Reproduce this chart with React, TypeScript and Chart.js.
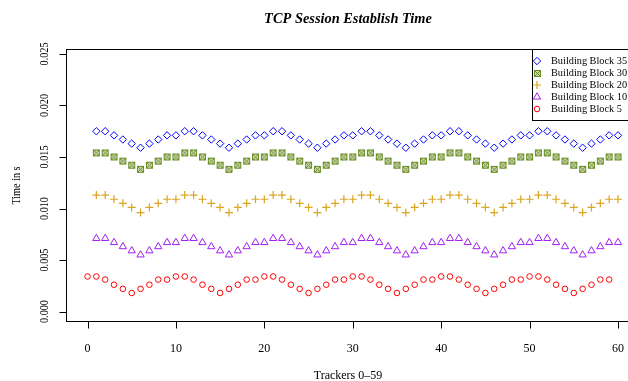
import React, { useEffect, useRef } from "react";
import { Chart, registerables } from "chart.js";

Chart.register(...registerables);

const titleText = "TCP Session Establish Time";
const xTitle = "Trackers 0\u201359";
const yTitle = "Time in s";
const xTicks = [0, 10, 20, 30, 40, 50, 60];
const xTickLabels = ["0", "10", "20", "30", "40", "50", "60"];
const yTicks = [0, 0.005, 0.01, 0.015, 0.02, 0.025];
const yTickLabels = ["0.000", "0.005", "0.010", "0.015", "0.020", "0.025"];

const trackersFrom0 = [
  0, 1, 2, 3, 4, 5, 6, 7, 8, 9, 10, 11, 12, 13, 14, 15, 16, 17, 18, 19,
  20, 21, 22, 23, 24, 25, 26, 27, 28, 29, 30, 31, 32, 33, 34, 35, 36, 37, 38, 39,
  40, 41, 42, 43, 44, 45, 46, 47, 48, 49, 50, 51, 52, 53, 54, 55, 56, 57, 58, 59,
];
const trackersFrom1 = [
  1, 2, 3, 4, 5, 6, 7, 8, 9, 10, 11, 12, 13, 14, 15, 16, 17, 18, 19, 20,
  21, 22, 23, 24, 25, 26, 27, 28, 29, 30, 31, 32, 33, 34, 35, 36, 37, 38, 39, 40,
  41, 42, 43, 44, 45, 46, 47, 48, 49, 50, 51, 52, 53, 54, 55, 56, 57, 58, 59, 60,
];

const bb35 = [
  0.0175, 0.0175, 0.0171, 0.0167, 0.0163, 0.0159, 0.0163, 0.0167, 0.0171, 0.0171,
  0.0175, 0.0175, 0.0171, 0.0167, 0.0163, 0.0159, 0.0163, 0.0167, 0.0171, 0.0171,
  0.0175, 0.0175, 0.0171, 0.0167, 0.0163, 0.0159, 0.0163, 0.0167, 0.0171, 0.0171,
  0.0175, 0.0175, 0.0171, 0.0167, 0.0163, 0.0159, 0.0163, 0.0167, 0.0171, 0.0171,
  0.0175, 0.0175, 0.0171, 0.0167, 0.0163, 0.0159, 0.0163, 0.0167, 0.0171, 0.0171,
  0.0175, 0.0175, 0.0171, 0.0167, 0.0163, 0.0159, 0.0163, 0.0167, 0.0171, 0.0171,
];
const bb30 = [
  0.0154, 0.0154, 0.015, 0.0146, 0.0142, 0.0138, 0.0142, 0.0146, 0.015, 0.015,
  0.0154, 0.0154, 0.015, 0.0146, 0.0142, 0.0138, 0.0142, 0.0146, 0.015, 0.015,
  0.0154, 0.0154, 0.015, 0.0146, 0.0142, 0.0138, 0.0142, 0.0146, 0.015, 0.015,
  0.0154, 0.0154, 0.015, 0.0146, 0.0142, 0.0138, 0.0142, 0.0146, 0.015, 0.015,
  0.0154, 0.0154, 0.015, 0.0146, 0.0142, 0.0138, 0.0142, 0.0146, 0.015, 0.015,
  0.0154, 0.0154, 0.015, 0.0146, 0.0142, 0.0138, 0.0142, 0.0146, 0.015, 0.015,
];
const bb20 = [
  0.0113, 0.0113, 0.0109, 0.0105, 0.0101, 0.0096, 0.0101, 0.0105, 0.0109, 0.0109,
  0.0113, 0.0113, 0.0109, 0.0105, 0.0101, 0.0096, 0.0101, 0.0105, 0.0109, 0.0109,
  0.0113, 0.0113, 0.0109, 0.0105, 0.0101, 0.0096, 0.0101, 0.0105, 0.0109, 0.0109,
  0.0113, 0.0113, 0.0109, 0.0105, 0.0101, 0.0096, 0.0101, 0.0105, 0.0109, 0.0109,
  0.0113, 0.0113, 0.0109, 0.0105, 0.0101, 0.0096, 0.0101, 0.0105, 0.0109, 0.0109,
  0.0113, 0.0113, 0.0109, 0.0105, 0.0101, 0.0096, 0.0101, 0.0105, 0.0109, 0.0109,
];
const bb10 = [
  0.0071, 0.0071, 0.0067, 0.0063, 0.0059, 0.0055, 0.0059, 0.0063, 0.0067, 0.0067,
  0.0071, 0.0071, 0.0067, 0.0063, 0.0059, 0.0055, 0.0059, 0.0063, 0.0067, 0.0067,
  0.0071, 0.0071, 0.0067, 0.0063, 0.0059, 0.0055, 0.0059, 0.0063, 0.0067, 0.0067,
  0.0071, 0.0071, 0.0067, 0.0063, 0.0059, 0.0055, 0.0059, 0.0063, 0.0067, 0.0067,
  0.0071, 0.0071, 0.0067, 0.0063, 0.0059, 0.0055, 0.0059, 0.0063, 0.0067, 0.0067,
  0.0071, 0.0071, 0.0067, 0.0063, 0.0059, 0.0055, 0.0059, 0.0063, 0.0067, 0.0067,
];
const bb5 = [
  0.0034, 0.0034, 0.0031, 0.0026, 0.0022, 0.0018, 0.0022, 0.0026, 0.0031, 0.0031,
  0.0034, 0.0034, 0.0031, 0.0026, 0.0022, 0.0018, 0.0022, 0.0026, 0.0031, 0.0031,
  0.0034, 0.0034, 0.0031, 0.0026, 0.0022, 0.0018, 0.0022, 0.0026, 0.0031, 0.0031,
  0.0034, 0.0034, 0.0031, 0.0026, 0.0022, 0.0018, 0.0022, 0.0026, 0.0031, 0.0031,
  0.0034, 0.0034, 0.0031, 0.0026, 0.0022, 0.0018, 0.0022, 0.0026, 0.0031, 0.0031,
  0.0034, 0.0034, 0.0031, 0.0026, 0.0022, 0.0018, 0.0022, 0.0026, 0.0031, 0.0031,
];

const seriesLabels = ["Building Block 35", "Building Block 30", "Building Block 20", "Building Block 10", "Building Block 5"];
const seriesColors = ["#0000FF", "#6B8E23", "#DAA520", "#A020F0", "#FF0000"];

const FONT = "'Liberation Serif', 'Times New Roman', serif";
const VSQUASH = 0.85;

function makeSquareX(color: string): HTMLCanvasElement {
  const c = document.createElement("canvas");
  c.width = 9;
  c.height = 9;
  const g = c.getContext("2d")!;
  g.fillStyle = "rgba(107,142,35,0.35)";
  g.fillRect(1.5, 1.5, 6, 6);
  g.strokeStyle = color;
  g.lineWidth = 1;
  g.strokeRect(1.5, 1.5, 6, 6);
  g.beginPath();
  g.moveTo(1.5, 1.5);
  g.lineTo(7.5, 7.5);
  g.moveTo(7.5, 1.5);
  g.lineTo(1.5, 7.5);
  g.stroke();
  return c;
}

function drawMarker(ctx: CanvasRenderingContext2D, kind: string, x: number, y: number, color: string, img?: HTMLCanvasElement) {
  ctx.save();
  ctx.strokeStyle = color;
  ctx.lineWidth = 1;
  ctx.beginPath();
  if (kind === "diamond") {
    const r = 3.7;
    ctx.moveTo(x, y - r);
    ctx.lineTo(x + r, y);
    ctx.lineTo(x, y + r);
    ctx.lineTo(x - r, y);
    ctx.closePath();
    ctx.stroke();
  } else if (kind === "squarex" && img) {
    ctx.drawImage(img, Math.round(x - 4.5), Math.round(y - 4.5));
  } else if (kind === "cross") {
    const r = 4;
    ctx.lineWidth = 1.2;
    ctx.moveTo(x - r, y);
    ctx.lineTo(x + r, y);
    ctx.moveTo(x, y - r);
    ctx.lineTo(x, y + r);
    ctx.stroke();
  } else if (kind === "triangle") {
    const r = 4.2;
    ctx.moveTo(x, y - r);
    ctx.lineTo(x + r * 0.866, y + r * 0.5);
    ctx.lineTo(x - r * 0.866, y + r * 0.5);
    ctx.closePath();
    ctx.stroke();
  } else {
    ctx.arc(x, y, 2.8, 0, Math.PI * 2);
    ctx.stroke();
  }
  ctx.restore();
}

export default function App() {
  const ref = useRef<HTMLCanvasElement>(null);
  useEffect(() => {
    if (!ref.current) return;
    const sqx = makeSquareX(seriesColors[1]);
    const kinds = ["diamond", "squarex", "cross", "triangle", "circle"];
    const mk = (ys: number[], xs: number[]) => ys.map((v, i) => ({ x: xs[i], y: v }));
    const datasets: any[] = [
      { label: seriesLabels[0], data: mk(bb35, trackersFrom1), pointStyle: "rectRot", pointRadius: 3.7, borderColor: seriesColors[0], w: 1 },
      { label: seriesLabels[1], data: mk(bb30, trackersFrom1), pointStyle: sqx, pointRadius: 4.5, borderColor: seriesColors[1], w: 1 },
      { label: seriesLabels[2], data: mk(bb20, trackersFrom1), pointStyle: "cross", pointRadius: 4, borderColor: seriesColors[2], w: 1.2 },
      { label: seriesLabels[3], data: mk(bb10, trackersFrom1), pointStyle: "triangle", pointRadius: 4.2, borderColor: seriesColors[3], w: 1 },
      { label: seriesLabels[4], data: mk(bb5, trackersFrom0), pointStyle: "circle", pointRadius: 2.8, borderColor: seriesColors[4], w: 1 },
    ].map(({ w, ...d }) => ({
      ...d,
      showLine: false,
      backgroundColor: "transparent",
      pointBackgroundColor: "transparent",
      pointBorderColor: d.borderColor,
      pointBorderWidth: w,
      pointHoverRadius: d.pointRadius,
      clip: false,
    }));

    const decor = {
      id: "decor",
      afterDraw(chart: any) {
        const ctx: CanvasRenderingContext2D = chart.ctx;
        const xs = chart.scales.x;
        const ys = chart.scales.y;
        const a = chart.chartArea;
        ctx.save();
        ctx.strokeStyle = "#000";
        ctx.fillStyle = "#000";
        ctx.lineWidth = 1;
        // box
        ctx.strokeRect(a.left + 0.5, a.top + 0.5, a.right - a.left, a.bottom - a.top - 1);
        const bottom = a.bottom - 0.5;
        const left = a.left + 0.5;
        ctx.beginPath();
        xTicks.forEach((t) => {
          const px = Math.round(xs.getPixelForValue(t)) + 0.5;
          ctx.moveTo(px, bottom);
          ctx.lineTo(px, bottom + 7);
        });
        yTicks.forEach((t) => {
          const py = Math.round(ys.getPixelForValue(t)) + 0.5;
          ctx.moveTo(left, py);
          ctx.lineTo(left - 7, py);
        });
        ctx.stroke();
        ctx.font = `12px ${FONT}`;
        ctx.textAlign = "center";
        ctx.textBaseline = "alphabetic";
        xTicks.forEach((t, i) => {
          ctx.fillText(xTickLabels[i], xs.getPixelForValue(t), 352);
        });
        yTicks.forEach((t, i) => {
          ctx.save();
          ctx.translate(47.7, ys.getPixelForValue(t));
          ctx.rotate(-Math.PI / 2);
          ctx.scale(VSQUASH, 1);
          ctx.fillText(yTickLabels[i], 0, 0);
          ctx.restore();
        });
        ctx.fillText(xTitle, (a.left + a.right) / 2, 379);
        ctx.save();
        ctx.translate(19.5, (a.top + a.bottom) / 2);
        ctx.rotate(-Math.PI / 2);
        ctx.scale(VSQUASH, 1);
        ctx.fillText(yTitle, 0, 0);
        ctx.restore();
        ctx.font = `italic bold 14.4px ${FONT}`;
        ctx.fillText(titleText, (a.left + a.right) / 2, 23);
        // legend
        ctx.fillStyle = "#fff";
        ctx.fillRect(532.5, a.top + 0.5, a.right - 532.5, 71);
        ctx.strokeRect(532.5, a.top + 0.5, a.right - 532.5 + 2, 71);
        ctx.fillStyle = "#000";
        ctx.font = `10.3px ${FONT}`;
        ctx.textAlign = "left";
        ctx.textBaseline = "middle";
        seriesLabels.forEach((lab, i) => {
          const yy = 61 + i * 12;
          drawMarker(ctx, kinds[i], 537, yy, seriesColors[i], sqx);
          ctx.fillStyle = "#000";
          ctx.fillText(lab, 551, yy + 0.5);
        });
        ctx.restore();
      },
    };

    const chart = new Chart(ref.current, {
      type: "scatter",
      data: { datasets },
      options: {
        animation: false,
        responsive: false,
        devicePixelRatio: 1,
        layout: { padding: { left: 66, top: 49, right: 10, bottom: 59 } },
        plugins: { legend: { display: false }, tooltip: { enabled: false }, title: { display: false } },
        events: [],
        scales: {
          x: { type: "linear", display: false, min: -2.4317, max: 61.357 },
          y: { type: "linear", display: false, min: -0.001019, max: 0.025485 },
        },
      },
      plugins: [decor],
    });
    return () => chart.destroy();
  }, []);

  return (
    <div style={{ position: "fixed", left: 0, top: 0, width: 628, height: 381, overflow: "hidden", background: "#fff" }}>
      <canvas ref={ref} width={640} height={381} style={{ display: "block", width: 640, height: 381 }} />
    </div>
  );
}
